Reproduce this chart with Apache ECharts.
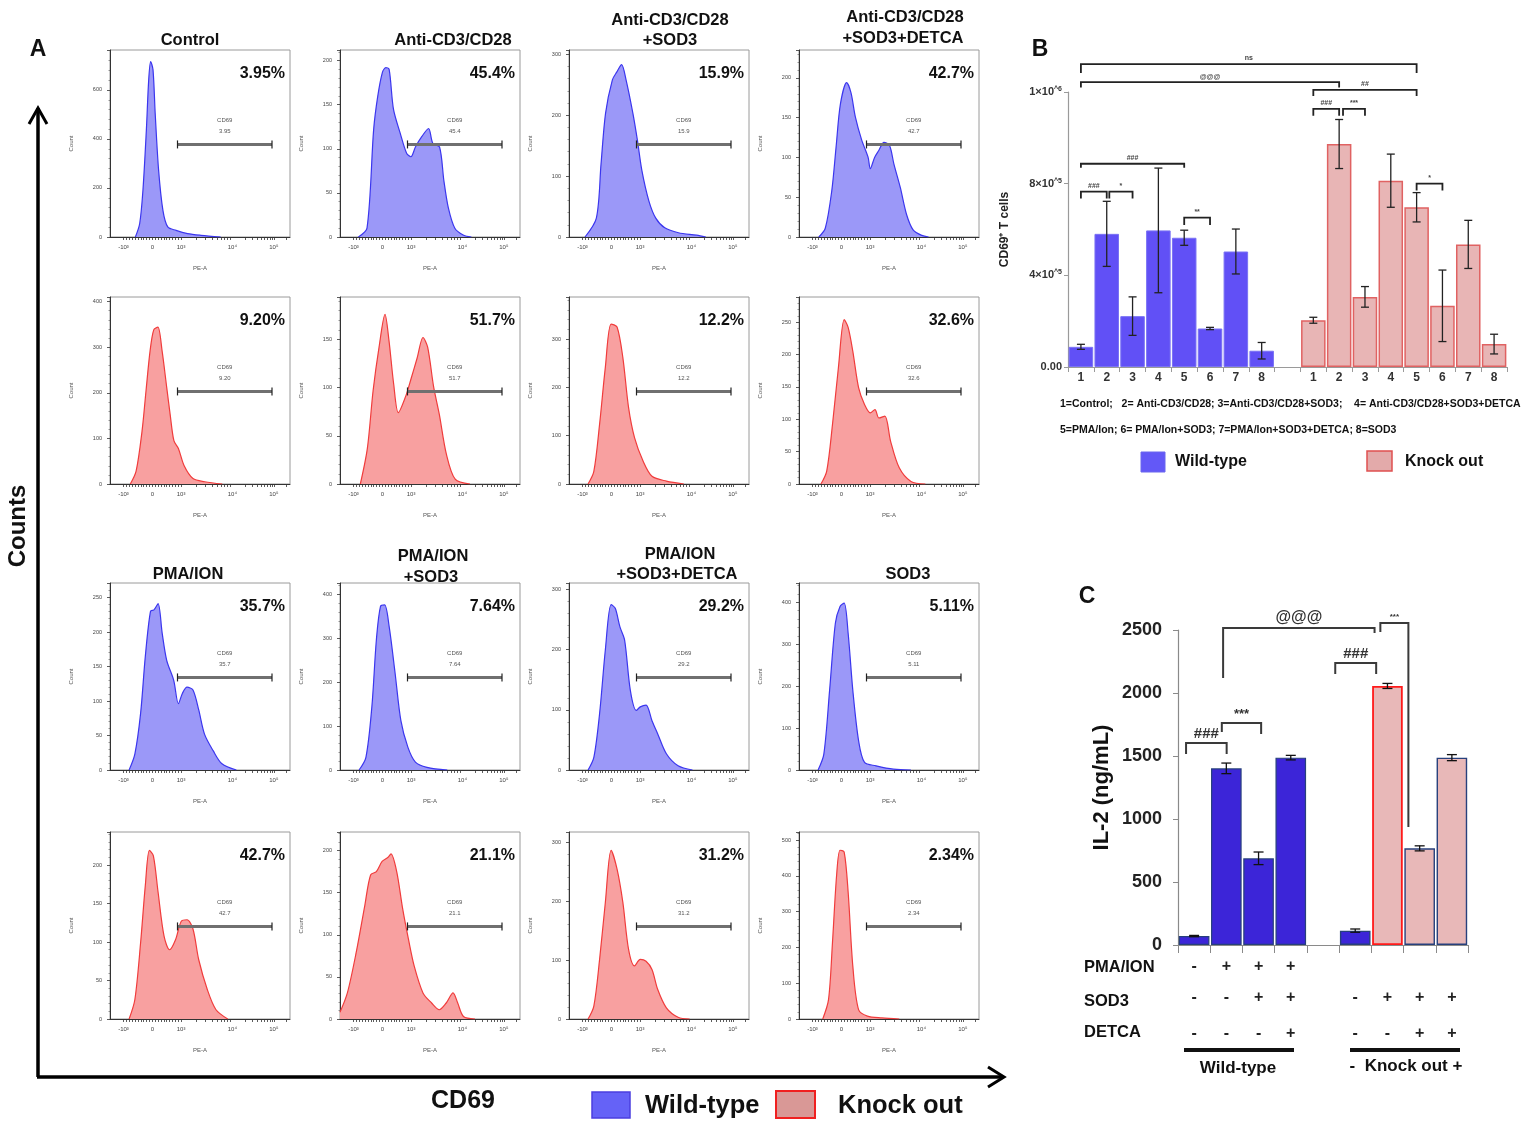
<!DOCTYPE html>
<html>
<head>
<meta charset="utf-8">
<script src="https://cdn.jsdelivr.net/npm/echarts@6/dist/echarts.min.js"></script>
<style>
  html, body { margin: 0; padding: 0; background: #fff; }
  #fig { width: 1534px; height: 1130px; }
</style>
</head>
<body>
<div id="fig"></div>
<script>
// ---------------- data: panel A histograms (x in display units 0..100, y = count) ----------------
var wtControl = [[14.1,0],[16.5,55],[18.3,191],[20.2,436],[21.5,641],[22.6,716],[23.9,682],[25.1,505],[27,273],[29.4,109],[32.1,41],[36.7,27],[43.1,14],[50.5,7],[61.5,0]];
var wtAnti = [[10.2,0],[15,10],[18.7,122],[21,160],[23.6,187],[25.5,192],[27.3,190],[29.7,145],[33.4,118],[37,95],[39.4,91],[41.9,102],[45.5,114],[49.2,123],[51.6,106],[55.3,102],[57.7,64],[60.2,33],[63.8,10],[68.7,2],[73,0]];
var wtAntiSod3 = [[8.9,0],[15.2,31],[17.8,120],[20.3,203],[24.1,258],[26.6,271],[29.2,283],[31.7,258],[35.5,203],[38,159],[40.5,109],[44.4,59],[48.2,31],[53.2,15],[60.8,7],[70.9,3],[76,0]];
var wtAntiSod3Detca = [[11,0],[14.6,11],[18.2,58],[20.6,113],[23,167],[26.5,194],[28.9,181],[31.3,151],[34.8,122],[38.4,100],[39.6,86],[42,100],[44.4,109],[47.2,119],[50.3,115],[52.7,92],[56.3,62],[59.8,28],[63.4,9],[68.2,2],[72,0]];
var koControl = [[11.3,0],[14.5,28],[17.8,116],[20,204],[22.3,293],[24.3,338],[26.6,344],[28.9,293],[31.5,212],[33.5,150],[35.5,95],[38,78],[41.2,40],[46.1,12],[52.6,5],[62.4,0]];
var koAnti = [[11.3,0],[15.2,37],[18.4,97],[21.7,142],[25,176],[27.2,149],[29.8,104],[32.4,74],[36.3,90],[39.6,110],[42.9,131],[46.1,152],[48.7,142],[52,101],[55.2,72],[59.1,31],[64,5],[72.2,0]];
var koAntiSod3 = [[10.6,0],[13.8,26],[17,124],[20.2,242],[23.4,331],[26.7,325],[29.9,262],[33.1,158],[36.4,96],[41.2,47],[46.1,16],[54.1,6],[63.8,0]];
var koAntiSod3Detca = [[12.2,0],[15.4,20],[18.6,92],[21.9,180],[25.1,254],[27.3,242],[29.9,205],[33.1,149],[36.4,123],[39.6,110],[42.2,115],[44.4,102],[47.7,105],[50.9,66],[55.7,25],[62.2,4],[70.2,0]];
var wtPma = [[10.6,0],[13.8,23],[17,82],[19.6,164],[22.5,230],[24.4,232],[26.7,241],[29,198],[31.5,159],[35.4,130],[38,96],[40.2,111],[42.8,120],[46.1,116],[49.3,87],[52.5,52],[57.3,28],[62.2,9],[70.2,0]];
var wtPmaSod3 = [[10.6,0],[14.4,29],[17.7,144],[20.2,296],[22.5,373],[24.8,376],[27.3,327],[30.6,221],[33.8,113],[37.7,52],[41.9,18],[48.3,6],[59.6,0]];
var wtPmaSod3Detca = [[10.6,0],[13.8,21],[17,94],[20.2,200],[23.4,275],[25.7,269],[28.3,238],[30.9,216],[34.1,132],[37.4,99],[39.6,105],[42.8,108],[46.1,82],[49.3,60],[54.1,27],[60.6,7],[68.6,0]];
var wtSod3 = [[10.6,0],[13.8,38],[17,190],[20.2,350],[22.8,390],[25.1,398],[27.3,326],[29.9,190],[33.1,70],[36.4,18],[42.8,10],[52.5,2],[62.2,0]];
var koPma = [[10.6,0],[13.8,25],[17,99],[19.6,173],[21.9,219],[24.1,212],[26.7,165],[30,108],[33.1,90],[36.4,103],[39.6,127],[42.8,129],[46.1,117],[49.3,77],[54.1,38],[58.9,12],[65.4,0]];
var koPmaSod3 = [[0,8],[4.1,31],[9,79],[13.8,135],[17,171],[20.2,175],[23.4,187],[26.7,192],[28.3,196],[31.5,175],[34.8,131],[38,95],[41.2,63],[46.1,31],[50.9,19],[55.1,11],[59,19],[62.8,31],[65.4,19],[68.6,3],[75,0]];
var koPmaSod3Detca = [[10.6,0],[13.8,22],[17,101],[20.2,198],[23.4,286],[26.7,254],[29.9,198],[33.1,118],[36.4,90],[39.6,101],[42.8,98],[46.1,84],[49.3,50],[54.1,19],[60.6,3],[67,0]];
var koSod3 = [[13.2,0],[16.4,54],[18.6,214],[20.9,402],[22.8,472],[25.1,467],[27.3,355],[29.9,148],[33.1,26],[38,8],[46.1,3],[55.7,0]];

var histCurves = [wtControl, wtAnti, wtAntiSod3, wtAntiSod3Detca,
                  koControl, koAnti, koAntiSod3, koAntiSod3Detca,
                  wtPma, wtPmaSod3, wtPmaSod3Detca, wtSod3,
                  koPma, koPmaSod3, koPmaSod3Detca, koSod3];
var histPercents = ['3.95','45.4','15.9','42.7','9.20','51.7','12.2','32.6','35.7','7.64','29.2','5.11','42.7','21.1','31.2','2.34'];
var histYMax = [763, 212, 307, 235, 410, 194, 387, 289, 271, 426, 311, 446, 243, 222, 317, 523];
var histYStep = [200, 50, 100, 50, 100, 50, 100, 50, 50, 100, 100, 100, 50, 50, 100, 100];
var peTicks = [7.5, 23.5, 39.5, 68, 91];
var peTickLabels = ['-10³', '0', '10³', '10⁴', '10⁵'];
var gateEdges = [37.5, 90];

// ---------------- data: panel B ----------------
var cd69Categories = ['1','2','3','4','5','6','7','8','','1','2','3','4','5','6','7','8'];
var cd69Wt = [88000, 581000, 222000, 596000, 564000, 168000, 504000, 71000];
var cd69WtErr = [11000, 142000, 84000, 272000, 33000, 5000, 98000, 36000];
var cd69Ko = [204000, 973000, 306000, 813000, 697000, 267000, 535000, 100000];
var cd69KoErr = [13000, 107000, 45000, 116000, 64000, 156000, 105000, 43000];
var cd69TickLabels = ['0.00', '4×10^5', '8×10^5', '1×10^6'];
// [from category, to category, bracket top, left end, right end]
var cd69Brackets = [[0,13,1322000,1283000,1283000],[0,10,1243000,1220000,1220000],[9,13,1209000,1183000,1183000],
                    [9,10,1126000,1096000,1096000],[10.15,11,1126000,1096000,1096000],[0,4,887000,870000,870000],
                    [0,1,765000,735000,735000],[1.1,2,765000,735000,735000],[4,5,652000,620000,620000],[13,14,800000,770000,770000]];
var cd69BracketLabels = ['ns','@@@','##','###','***','###','###','*','**','*'];

// ---------------- data: panel C ----------------
var il2Categories = ['','','','','','','','',''];
var il2Wt = [71, 1402, 688, 1487];
var il2WtErr = [5, 42, 50, 18];
var il2Ko = [114, 2056, 767, 1487];
var il2KoErr = [13, 20, 20, 24];
var il2PmaRow = ['-','+','+','+','','','','',''];
var il2Sod3Row = ['-','-','+','+','','-','+','+','+'];
var il2DetcaRow = ['-','-','-','+','','-','-','+','+'];
var il2Brackets = [[-0.25,1.01,1603,1516,1516],[0.86,2.08,1762,1690,1675],[0.9,5.6,2516,2119,2476],
                   [4.38,5.65,2238,2151,2151],[5.78,6.65,2556,2484,937]];
var il2BracketLabels = ['###','***','@@@','###','***'];

// ---------------- layout / style ----------------
var FONT = '"Liberation Sans", Arial, sans-serif';
var HIST_LEFT = [110, 340, 569, 799];
var HIST_TOP = [50, 297, 583, 832];
var HIST_W = 180, HIST_H = 187;
var WT_LINE = '#3b36ee', WT_FILL = '#9b98f8';
var KO_LINE = '#f03c3c', KO_FILL = '#f8a0a0';
var IL2_KO_FILL = ['#3c25d8', '#e8b8b8', '#e8b8b8', '#e8b8b8'];
var IL2_KO_BORDER = ['#27407c', '#ff1a1a', '#27407c', '#27407c'];
var IL2_BRACKET_FONT = ['bold 15px ' + FONT, 'bold 13px ' + FONT, 'bold 16px ' + FONT, 'bold 15px ' + FONT, 'bold 8px ' + FONT];

var peMinorTicks = [];
for (var k = -10; k <= 10; k++) peMinorTicks.push(23.5 + k * 1.6);
for (var m = 2; m <= 9; m++) {
  peMinorTicks.push(39.5 + 28.5 * Math.log10(m));
  peMinorTicks.push(68 + 23 * Math.log10(m));
}
peMinorTicks.push(91, 97.9);

var chart = echarts.init(document.getElementById('fig'), null, { width: 1534, height: 1130, renderer: 'canvas' });

var grids = [], xAxes = [], yAxes = [], series = [], graphics = [];

function txt(str, x, y, font, align, extra) {
  var el = { type: 'text', x: x, y: y, z: 50,
    style: { text: str, font: font, fill: '#111', align: align || 'center', verticalAlign: 'middle',
             textAlign: align || 'center', textVerticalAlign: 'middle' } };
  if (extra) for (var p in extra) el[p] = extra[p];
  return el;
}

// ---------------- panel A ----------------
histCurves.forEach(function (curve, i) {
  var row = Math.floor(i / 4), col = i % 4;
  var isWt = row % 2 === 0;
  var left = HIST_LEFT[col], top = HIST_TOP[row];
  grids.push({ left: left, top: top, width: HIST_W, height: HIST_H, show: true, borderColor: '#9a9a9a', borderWidth: 1 });
  xAxes.push({
    gridIndex: i, type: 'value', min: 0, max: 100,
    name: 'PE-A', nameLocation: 'middle', nameGap: 28,
    nameTextStyle: { fontSize: 6, color: '#555', fontFamily: FONT },
    axisLine: { show: true, lineStyle: { color: '#333', width: 1 } },
    axisTick: { show: true, length: 3, customValues: peMinorTicks, lineStyle: { color: '#333', width: 0.8 } },
    axisLabel: { show: true, customValues: peTicks, fontSize: 6, color: '#444', margin: 7, fontFamily: FONT,
      formatter: function (v) { return peTickLabels[peTicks.indexOf(v)]; } },
    splitLine: { show: false }
  });
  yAxes.push({
    gridIndex: i, type: 'value', min: 0, max: histYMax[i], interval: histYStep[i],
    name: 'Count', nameLocation: 'middle', nameGap: 36,
    nameTextStyle: { fontSize: 6, color: '#555', fontFamily: FONT },
    axisLine: { show: true, lineStyle: { color: '#333', width: 1 } },
    axisTick: { show: true, length: 3, lineStyle: { color: '#333', width: 0.8 } },
    minorTick: { show: true, splitNumber: 5, length: 1.5, lineStyle: { color: '#555', width: 0.6 } },
    axisLabel: { fontSize: 5.5, color: '#444', margin: 8, showMaxLabel: false, fontFamily: FONT },
    splitLine: { show: false }
  });
  series.push({
    type: 'line', xAxisIndex: i, yAxisIndex: i, data: curve, smooth: 0.3, symbol: 'none',
    lineStyle: { color: isWt ? WT_LINE : KO_LINE, width: 1.2 },
    areaStyle: { color: isWt ? WT_FILL : KO_FILL, opacity: 1 },
    silent: true, z: 2
  });
  series.push({
    type: 'custom', xAxisIndex: i, yAxisIndex: i, z: 5, silent: true,
    data: [[gateEdges[0], histYMax[i] * 0.495, gateEdges[1]]],
    renderItem: function (params, api) {
      var a = api.coord([api.value(0), api.value(1)]);
      var b = api.coord([api.value(2), api.value(1)]);
      var mid = (a[0] + b[0]) / 2;
      return { type: 'group', children: [
        { type: 'line', shape: { x1: a[0], y1: a[1], x2: b[0], y2: b[1] }, style: { stroke: '#707070', lineWidth: 3 } },
        { type: 'line', shape: { x1: a[0], y1: a[1] - 4, x2: a[0], y2: a[1] + 4 }, style: { stroke: '#222', lineWidth: 1.2 } },
        { type: 'line', shape: { x1: b[0], y1: b[1] - 4, x2: b[0], y2: b[1] + 4 }, style: { stroke: '#222', lineWidth: 1.2 } },
        { type: 'text', x: mid, y: a[1] - 24, style: { text: 'CD69', font: '6px ' + FONT, fill: '#555', align: 'center', verticalAlign: 'middle' } },
        { type: 'text', x: mid, y: a[1] - 13, style: { text: histPercents[i], font: '6px ' + FONT, fill: '#555', align: 'center', verticalAlign: 'middle' } }
      ] };
    }
  });
  graphics.push(txt(histPercents[i] + '%', left + HIST_W - 5, top + 24, 'bold 16px ' + FONT, 'right'));
});

var headTexts = [['Control', 190, 40], ['Anti-CD3/CD28', 453, 40], ['Anti-CD3/CD28', 670, 20], ['+SOD3', 670, 40],
  ['Anti-CD3/CD28', 905, 17], ['+SOD3+DETCA', 903, 38], ['PMA/ION', 188, 574], ['PMA/ION', 433, 556], ['+SOD3', 431, 577],
  ['PMA/ION', 680, 554], ['+SOD3+DETCA', 677, 574], ['SOD3', 908, 574]];
headTexts.forEach(function (h) { graphics.push(txt(h[0], h[1], h[2], 'bold 16.5px ' + FONT)); });

graphics.push(txt('A', 38, 50, 'bold 23px ' + FONT));
graphics.push(txt('Counts', 18, 526, 'bold 24px ' + FONT, 'center', { rotation: Math.PI / 2 }));
graphics.push(txt('CD69', 463, 1101, 'bold 25px ' + FONT));
graphics.push({ type: 'polyline', shape: { points: [[38, 1077], [38, 108]] }, style: { stroke: '#000', lineWidth: 3.5, fill: null } });
graphics.push({ type: 'polyline', shape: { points: [[29, 124], [38, 108], [47, 124]] }, style: { stroke: '#000', lineWidth: 3, fill: null } });
graphics.push({ type: 'polyline', shape: { points: [[37, 1077], [1003, 1077]] }, style: { stroke: '#000', lineWidth: 3.5, fill: null } });
graphics.push({ type: 'polyline', shape: { points: [[988, 1067], [1004, 1077], [988, 1087]] }, style: { stroke: '#000', lineWidth: 3, fill: null } });
graphics.push({ type: 'rect', shape: { x: 592, y: 1092, width: 38, height: 26 }, style: { fill: '#6562f7', stroke: '#4b3fe0', lineWidth: 1.5 } });
graphics.push(txt('Wild-type', 645, 1106, 'bold 25.5px ' + FONT, 'left'));
graphics.push({ type: 'rect', shape: { x: 776, y: 1091, width: 39, height: 27 }, style: { fill: '#d99896', stroke: '#f02020', lineWidth: 2 } });
graphics.push(txt('Knock out', 838, 1106, 'bold 25.5px ' + FONT, 'left'));

// ---------------- helpers for bars ----------------
function catX(api, v) {
  var i = Math.round(v);
  var p = api.coord([i, 0]);
  var bw = api.size([1, 0])[0];
  return p[0] + (v - i) * bw;
}
function errRenderer(cap, color) {
  return function (params, api) {
    var x = api.coord([api.value(0), 0])[0];
    var hi = api.coord([api.value(0), api.value(1) + api.value(2)])[1];
    var lo = api.coord([api.value(0), api.value(1) - api.value(2)])[1];
    var st = { stroke: color, lineWidth: 1.3 };
    return { type: 'group', children: [
      { type: 'line', shape: { x1: x, y1: hi, x2: x, y2: lo }, style: st },
      { type: 'line', shape: { x1: x - cap, y1: hi, x2: x + cap, y2: hi }, style: st },
      { type: 'line', shape: { x1: x - cap, y1: lo, x2: x + cap, y2: lo }, style: st }
    ] };
  };
}
function bracketRenderer(labels, fonts, color, width, labelColor) {
  return function (params, api) {
    var x1 = catX(api, api.value(1)), x2 = catX(api, api.value(2));
    var yT = api.coord([0, api.value(3)])[1];
    var yL = api.coord([0, api.value(4)])[1];
    var yR = api.coord([0, api.value(5)])[1];
    return { type: 'group', children: [
      { type: 'polyline', shape: { points: [[x1, yL], [x1, yT], [x2, yT], [x2, yR]] }, style: { stroke: color, lineWidth: width, fill: null } },
      { type: 'text', x: (x1 + x2) / 2, y: yT - 2,
        style: { text: labels[params.dataIndex], font: fonts[params.dataIndex], fill: labelColor, align: 'center', verticalAlign: 'bottom' } }
    ] };
  };
}
function padTo(arr, before, after) {
  var out = [];
  for (var a = 0; a < before; a++) out.push('-');
  arr.forEach(function (v) { out.push(v); });
  for (var b = 0; b < after; b++) out.push('-');
  return out;
}

// ---------------- panel B ----------------
var gB = grids.length;
grids.push({ left: 1068, top: 92, width: 439, height: 275, show: false });
var xB = xAxes.length, yB = yAxes.length;
xAxes.push({
  gridIndex: gB, type: 'category', data: cd69Categories,
  axisLine: { lineStyle: { color: '#9a9a9a', width: 1.2 } },
  axisTick: { show: true, length: 5, lineStyle: { color: '#9a9a9a' } },
  axisLabel: { fontSize: 12, fontWeight: 'bold', color: '#333', margin: 5, fontFamily: FONT, interval: 0 }
});
yAxes.push({
  gridIndex: gB, type: 'value', min: 0, max: 1200000, interval: 400000,
  name: 'CD69⁺ T cells', nameLocation: 'middle', nameGap: 57,
  nameTextStyle: { fontSize: 12, fontWeight: 'bold', color: '#222', fontFamily: FONT },
  axisLine: { show: true, lineStyle: { color: '#9a9a9a', width: 1.2 } },
  axisTick: { show: true, length: 4, lineStyle: { color: '#9a9a9a' } },
  axisLabel: {
    margin: 6, color: '#333', fontFamily: FONT,
    formatter: function (v) {
      var s = cd69TickLabels[Math.round(v / 400000)].split('^');
      return s.length > 1 ? '{m|' + s[0] + '}{s|^' + s[1] + '}' : '{m|' + s[0] + '}';
    },
    rich: { m: { fontSize: 11, fontWeight: 'bold', color: '#333', fontFamily: FONT },
            s: { fontSize: 7, fontWeight: 'bold', color: '#333', fontFamily: FONT, padding: [0, 0, 6, 0] } }
  },
  splitLine: { show: false }
});
var bWtData = padTo(cd69Wt, 0, 9), bKoData = padTo(cd69Ko, 9, 0);
series.push({ name: 'Wild-type', type: 'bar', xAxisIndex: xB, yAxisIndex: yB, data: bWtData,
  barGap: '-100%', barCategoryGap: '5%', itemStyle: { color: '#6150f6', borderColor: '#7a72f4', borderWidth: 1 } });
series.push({ name: 'Knock out', type: 'bar', xAxisIndex: xB, yAxisIndex: yB, data: bKoData,
  barGap: '-100%', barCategoryGap: '5%', itemStyle: { color: '#e8b5b5', borderColor: '#e06262', borderWidth: 1.5 } });
var bErr = [];
cd69Wt.forEach(function (v, i) { bErr.push([i, v, cd69WtErr[i]]); });
cd69Ko.forEach(function (v, i) { bErr.push([9 + i, v, cd69KoErr[i]]); });
series.push({ type: 'custom', xAxisIndex: xB, yAxisIndex: yB, data: bErr, renderItem: errRenderer(4, '#222'), z: 5, silent: true });
series.push({ type: 'custom', xAxisIndex: xB, yAxisIndex: yB, z: 5, silent: true,
  data: cd69Brackets.map(function (b) { return [0].concat(b); }),
  renderItem: bracketRenderer(cd69BracketLabels, cd69BracketLabels.map(function () { return 'bold 7px ' + FONT; }), '#222', 1.8, '#444') });

graphics.push(txt('B', 1040, 50, 'bold 23px ' + FONT));
graphics.push(txt('1=Control;   2= Anti-CD3/CD28; 3=Anti-CD3/CD28+SOD3;    4= Anti-CD3/CD28+SOD3+DETCA', 1060, 404, 'bold 10.5px ' + FONT, 'left'));
graphics.push(txt('5=PMA/Ion; 6= PMA/Ion+SOD3; 7=PMA/Ion+SOD3+DETCA; 8=SOD3', 1060, 430, 'bold 10.5px ' + FONT, 'left'));
graphics.push({ type: 'rect', shape: { x: 1141, y: 452, width: 24, height: 20 }, style: { fill: '#6358f7', stroke: '#6a66ee', lineWidth: 1 } });
graphics.push(txt('Wild-type', 1175, 462, 'bold 16px ' + FONT, 'left'));
graphics.push({ type: 'rect', shape: { x: 1367, y: 451, width: 25, height: 20 }, style: { fill: '#e3aaaa', stroke: '#e05050', lineWidth: 1.5 } });
graphics.push(txt('Knock out', 1405, 462, 'bold 16px ' + FONT, 'left'));

// ---------------- panel C ----------------
var gC = grids.length;
grids.push({ left: 1178, top: 630, width: 290, height: 315, show: false });
var xC = xAxes.length, yC = yAxes.length;
xAxes.push({
  gridIndex: gC, type: 'category', data: il2Categories,
  axisLine: { lineStyle: { color: '#8a8a8a', width: 1.2 } },
  axisTick: { show: true, length: 8, lineStyle: { color: '#8a8a8a' } },
  axisLabel: { show: false }
});
[[il2PmaRow, 14], [il2Sod3Row, 45], [il2DetcaRow, 81]].forEach(function (r) {
  xAxes.push({
    gridIndex: gC, type: 'category', data: r[0], position: 'bottom', offset: r[1],
    axisLine: { show: false }, axisTick: { show: false },
    axisLabel: { interval: 0, margin: 0, fontSize: 16, fontWeight: 'bold', color: '#222', fontFamily: FONT }
  });
});
yAxes.push({
  gridIndex: gC, type: 'value', min: 0, max: 2500, interval: 500,
  name: 'IL-2 (ng/mL)', nameLocation: 'middle', nameGap: 65,
  nameTextStyle: { fontSize: 22, fontWeight: 'bold', color: '#111', fontFamily: FONT },
  axisLine: { show: true, lineStyle: { color: '#8a8a8a', width: 1.2 } },
  axisTick: { show: true, length: 5, lineStyle: { color: '#8a8a8a' } },
  axisLabel: { fontSize: 18, fontWeight: 'bold', color: '#222', margin: 16, fontFamily: FONT,
    formatter: function (v) { return String(v); } },
  splitLine: { show: false }
});
series.push({ type: 'bar', xAxisIndex: xC, yAxisIndex: yC, data: padTo(il2Wt, 0, 5),
  barGap: '-100%', barCategoryGap: '5%', itemStyle: { color: '#3c25d8', borderColor: '#27407c', borderWidth: 1.2 } });
series.push({ type: 'bar', xAxisIndex: xC, yAxisIndex: yC,
  data: padTo(il2Ko.map(function (v, i) {
    return { value: v, itemStyle: { color: IL2_KO_FILL[i], borderColor: IL2_KO_BORDER[i], borderWidth: i === 1 ? 1.8 : 1.4 } };
  }), 5, 0),
  barGap: '-100%', barCategoryGap: '5%' });
var cErr = [];
il2Wt.forEach(function (v, i) { cErr.push([i, v, il2WtErr[i]]); });
il2Ko.forEach(function (v, i) { cErr.push([5 + i, v, il2KoErr[i]]); });
series.push({ type: 'custom', xAxisIndex: xC, yAxisIndex: yC, data: cErr, renderItem: errRenderer(5, '#111'), z: 5, silent: true });
series.push({ type: 'custom', xAxisIndex: xC, yAxisIndex: yC, z: 5, silent: true,
  data: il2Brackets.map(function (b) { return [0].concat(b); }),
  renderItem: bracketRenderer(il2BracketLabels, IL2_BRACKET_FONT, '#3a3a3a', 2, '#333') });

graphics.push(txt('C', 1087, 597, 'bold 23px ' + FONT));
graphics.push(txt('PMA/ION', 1084, 967, 'bold 16.5px ' + FONT, 'left'));
graphics.push(txt('SOD3', 1084, 1001, 'bold 16.5px ' + FONT, 'left'));
graphics.push(txt('DETCA', 1084, 1032, 'bold 16.5px ' + FONT, 'left'));
graphics.push({ type: 'rect', shape: { x: 1184, y: 1048, width: 110, height: 4 }, style: { fill: '#111' } });
graphics.push({ type: 'rect', shape: { x: 1350, y: 1048, width: 110, height: 4 }, style: { fill: '#111' } });
graphics.push(txt('Wild-type', 1238, 1068, 'bold 17px ' + FONT));
graphics.push(txt('-  Knock out +', 1406, 1066, 'bold 17px ' + FONT));

var option = {
  backgroundColor: '#fff',
  animation: false,
  textStyle: { fontFamily: FONT },
  grid: grids,
  xAxis: xAxes,
  yAxis: yAxes,
  series: series,
  graphic: graphics
};
chart.setOption(option);
</script>
</body>
</html>
